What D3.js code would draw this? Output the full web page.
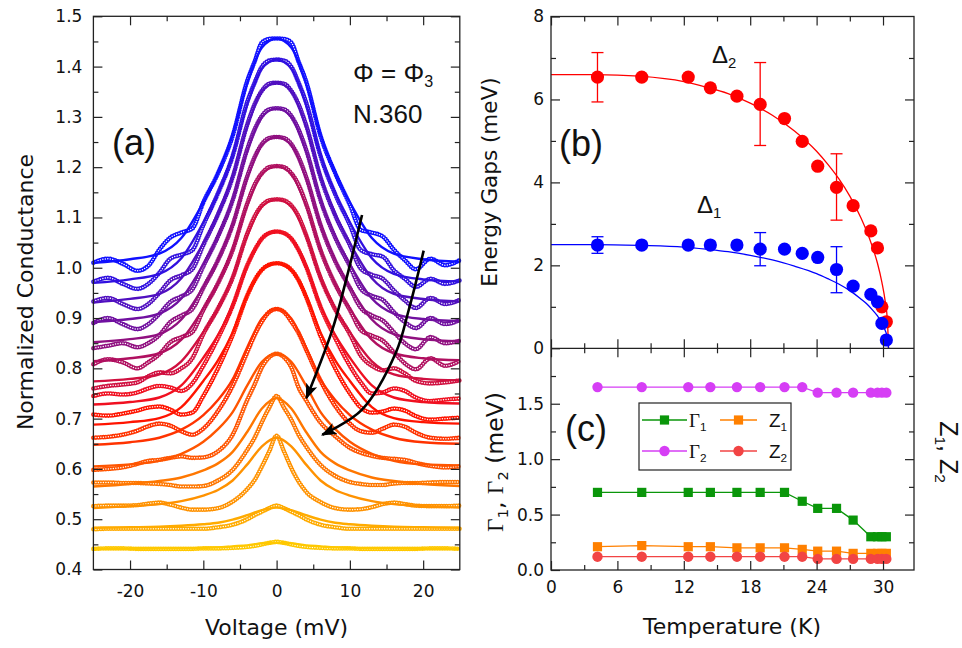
<!DOCTYPE html>
<html lang="en">
<head>
<meta charset="UTF-8" />
<title>Conductance spectra, energy gaps and fit parameters</title>
<script src="https://d3js.org/d3.v7.min.js"></script>
<style>
  body { margin: 0; background: #fff; }
  svg { display: block; font-family: "DejaVu Sans", sans-serif; }
  .tick-label { font-size: 17px; fill: #111; font-family: "DejaVu Sans", sans-serif; }
  .axis-title { font-size: 22px; fill: #111; }
  .panel-tag { font-size: 36px; fill: #111; font-family: "Liberation Sans", Arial, sans-serif; }
  .note { font-family: "Liberation Sans", Arial, sans-serif; fill: #111; }
</style>
</head>
<body>
<svg width="962" height="648"></svg>
<script>
// ---------- panel (a): normalized conductance curves ----------
const voltageFit = [-25, -20, -16, -13, -10, -8, -6, -4, -2, 0, 2, 4, 6, 8, 10, 13, 16, 20, 25];
const voltageData = [-25, -23, -21, -19, -17.5, -16, -14.5, -13, -11.5, -10, -8, -6, -4, -3, -2, -1, 0,
                     1, 2, 3, 4, 6, 8, 10, 11.5, 13, 14.5, 16, 17.5, 19, 21, 23, 25];
const curveColors = ["#1010ff", "#3010e0", "#5010c0", "#7010a0", "#901080", "#b01060", "#d01040", "#f01020",
                     "#ff1400", "#ff3300", "#ff5500", "#ff7700", "#ff9200", "#ffab00", "#ffc800"];

// fitted curves (solid lines), top curve first
const fitLines = [
  [1.010,1.017,1.028,1.059,1.130,1.188,1.264,1.367,1.438,1.456,1.438,1.367,1.264,1.188,1.130,1.059,1.028,1.017,1.012],
  [0.970,0.977,0.988,1.019,1.090,1.148,1.223,1.325,1.396,1.414,1.396,1.325,1.223,1.148,1.090,1.019,0.988,0.977,0.973],
  [0.931,0.938,0.948,0.979,1.049,1.106,1.180,1.281,1.351,1.368,1.351,1.281,1.180,1.106,1.049,0.979,0.948,0.938,0.933],
  [0.892,0.898,0.909,0.939,1.007,1.062,1.134,1.232,1.300,1.317,1.300,1.232,1.134,1.062,1.007,0.939,0.909,0.898,0.894],
  [0.852,0.858,0.868,0.897,0.962,1.015,1.085,1.178,1.244,1.260,1.244,1.178,1.085,1.015,0.962,0.897,0.868,0.858,0.854],
  [0.814,0.820,0.830,0.857,0.919,0.969,1.035,1.124,1.186,1.202,1.186,1.124,1.035,0.969,0.919,0.857,0.830,0.820,0.816],
  [0.774,0.779,0.788,0.814,0.872,0.919,0.980,1.064,1.122,1.136,1.122,1.064,0.980,0.919,0.872,0.814,0.788,0.779,0.776],
  [0.728,0.733,0.742,0.766,0.821,0.866,0.924,1.003,1.058,1.072,1.058,1.003,0.924,0.866,0.821,0.766,0.742,0.733,0.730],
  [0.688,0.693,0.701,0.723,0.775,0.816,0.871,0.945,0.996,1.009,0.996,0.945,0.871,0.816,0.775,0.723,0.701,0.693,0.690],
  [0.648,0.653,0.662,0.678,0.707,0.737,0.778,0.842,0.899,0.918,0.899,0.842,0.778,0.737,0.707,0.678,0.662,0.653,0.650],
  [0.605,0.609,0.616,0.630,0.654,0.679,0.713,0.766,0.813,0.829,0.813,0.766,0.713,0.679,0.654,0.630,0.616,0.609,0.607],
  [0.565,0.570,0.576,0.583,0.597,0.611,0.634,0.674,0.720,0.741,0.720,0.674,0.634,0.611,0.597,0.583,0.576,0.570,0.566],
  [0.522,0.526,0.530,0.536,0.547,0.558,0.577,0.609,0.645,0.662,0.645,0.609,0.577,0.558,0.547,0.536,0.530,0.526,0.523],
  [0.483,0.484,0.485,0.487,0.490,0.493,0.499,0.508,0.518,0.523,0.518,0.508,0.499,0.493,0.490,0.487,0.485,0.484,0.483],
  [0.441,0.441,0.442,0.442,0.443,0.444,0.446,0.448,0.452,0.453,0.452,0.448,0.446,0.444,0.443,0.442,0.442,0.441,0.441]
];

// measured spectra (open circles), top curve first
const measured = [
  [1.010,1.018,1.008,0.994,1.004,1.036,1.060,1.070,1.078,1.130,1.188,1.262,1.372,1.410,1.448,1.455,1.456,1.455,1.448,1.410,1.372,1.262,1.188,1.125,1.075,1.070,1.062,1.036,1.015,0.997,1.018,1.005,1.015],
  [0.972,0.980,0.968,0.958,0.968,0.990,1.018,1.026,1.035,1.085,1.148,1.222,1.330,1.368,1.400,1.412,1.414,1.412,1.400,1.368,1.330,1.222,1.146,1.085,1.035,1.027,1.022,0.995,0.978,0.962,0.978,0.968,0.975],
  [0.933,0.940,0.928,0.918,0.928,0.950,0.975,0.985,0.997,1.045,1.106,1.180,1.285,1.325,1.352,1.366,1.368,1.366,1.352,1.325,1.285,1.180,1.104,1.045,0.998,0.986,0.978,0.955,0.935,0.920,0.940,0.928,0.936],
  [0.890,0.900,0.888,0.878,0.888,0.908,0.932,0.943,0.957,1.003,1.062,1.134,1.236,1.275,1.302,1.315,1.317,1.315,1.302,1.275,1.236,1.134,1.060,1.003,0.958,0.944,0.936,0.912,0.892,0.880,0.900,0.888,0.896],
  [0.840,0.845,0.850,0.842,0.850,0.866,0.892,0.905,0.918,0.960,1.015,1.085,1.182,1.220,1.246,1.258,1.260,1.258,1.246,1.220,1.182,1.085,1.013,0.960,0.920,0.905,0.895,0.872,0.850,0.838,0.862,0.850,0.855],
  [0.808,0.818,0.812,0.800,0.812,0.828,0.852,0.862,0.872,0.916,0.969,1.035,1.128,1.165,1.188,1.200,1.202,1.200,1.188,1.165,1.128,1.035,0.967,0.916,0.876,0.865,0.855,0.832,0.810,0.798,0.820,0.805,0.815],
  [0.760,0.765,0.768,0.772,0.784,0.792,0.790,0.800,0.820,0.868,0.919,0.980,1.068,1.102,1.124,1.134,1.136,1.134,1.124,1.102,1.066,0.980,0.917,0.868,0.825,0.805,0.796,0.800,0.790,0.775,0.770,0.772,0.776],
  [0.745,0.750,0.748,0.752,0.760,0.765,0.762,0.755,0.770,0.805,0.860,0.924,1.005,1.035,1.058,1.069,1.072,1.069,1.058,1.035,1.003,0.922,0.860,0.805,0.772,0.750,0.752,0.760,0.755,0.742,0.735,0.738,0.740],
  [0.708,0.706,0.710,0.716,0.722,0.724,0.718,0.708,0.712,0.745,0.800,0.866,0.945,0.975,0.996,1.006,1.009,1.006,0.996,0.975,0.943,0.864,0.800,0.750,0.722,0.712,0.714,0.720,0.716,0.705,0.698,0.700,0.702],
  [0.662,0.664,0.668,0.676,0.685,0.690,0.686,0.675,0.668,0.680,0.715,0.765,0.832,0.866,0.893,0.912,0.918,0.912,0.893,0.870,0.838,0.775,0.725,0.690,0.675,0.672,0.680,0.688,0.684,0.672,0.662,0.660,0.662],
  [0.598,0.600,0.603,0.610,0.616,0.618,0.622,0.625,0.622,0.623,0.635,0.668,0.737,0.768,0.802,0.822,0.829,0.822,0.802,0.762,0.737,0.692,0.665,0.642,0.632,0.626,0.622,0.620,0.618,0.612,0.606,0.603,0.605],
  [0.573,0.573,0.572,0.572,0.571,0.570,0.568,0.565,0.565,0.566,0.577,0.598,0.638,0.662,0.693,0.722,0.745,0.722,0.698,0.668,0.645,0.608,0.586,0.574,0.570,0.568,0.568,0.571,0.572,0.572,0.573,0.574,0.574],
  [0.526,0.527,0.527,0.528,0.531,0.533,0.529,0.523,0.519,0.519,0.522,0.535,0.560,0.578,0.605,0.635,0.666,0.635,0.602,0.575,0.555,0.534,0.522,0.519,0.520,0.524,0.530,0.533,0.530,0.527,0.526,0.526,0.527],
  [0.480,0.481,0.481,0.481,0.481,0.481,0.481,0.481,0.481,0.481,0.484,0.489,0.500,0.508,0.515,0.522,0.527,0.522,0.515,0.508,0.500,0.489,0.484,0.481,0.481,0.481,0.481,0.481,0.481,0.481,0.481,0.481,0.481],
  [0.441,0.442,0.442,0.441,0.441,0.441,0.441,0.441,0.441,0.442,0.442,0.443,0.445,0.447,0.450,0.453,0.455,0.453,0.450,0.447,0.445,0.443,0.442,0.442,0.441,0.441,0.441,0.441,0.441,0.441,0.442,0.442,0.441]
];

// guide arrows in (a), in data units [mV, G]
const arrowLeft = [[11.66, 1.105], [9.49, 0.976], [7.59, 0.876], [4.07, 0.741]];
const arrowRight = [[20.07, 1.034], [18.03, 0.916], [16.27, 0.831], [11.66, 0.718], [6.24, 0.668]];

// ---------- panels (b) and (c): temperature dependence ----------
const temps = [4.2, 8.2, 12.4, 14.4, 16.8, 18.9, 21.1, 22.7, 24.1, 25.8, 27.3, 28.9, 29.5, 29.9, 30.3];
const delta2 = [6.54, 6.54, 6.54, 6.28, 6.08, 5.88, 5.54, 4.99, 4.39, 3.88, 3.44, 2.83, 2.42, 1.00, 0.64];
const delta1 = [2.49, 2.49, 2.49, 2.49, 2.49, 2.39, 2.39, 2.29, 2.19, 1.90, 1.50, 1.30, 1.12, 0.60, 0.20];

const errTemps = [4.2, 18.9, 25.8];
const delta2Low = [5.94, 4.89, 3.09];
const delta2High = [7.13, 6.89, 4.69];
const delta1Low = [2.29, 1.99, 1.34];
const delta1High = [2.69, 2.79, 2.45];

const fitTemps = [0, 4, 8, 12, 14, 16, 18, 20, 22, 24, 25, 26, 27, 28, 28.5, 29, 29.5, 29.9, 30.2, 30.4, 30.5];
const fitDelta2 = [6.60, 6.60, 6.56, 6.43, 6.30, 6.14, 5.91, 5.62, 5.24, 4.75, 4.44, 4.09, 3.67, 3.15, 2.84, 2.48, 2.05, 1.59, 1.13, 0.66, 0];
const fitDelta1 = [2.50, 2.50, 2.48, 2.44, 2.39, 2.33, 2.24, 2.13, 1.98, 1.80, 1.68, 1.55, 1.39, 1.19, 1.08, 0.94, 0.78, 0.60, 0.43, 0.25, 0];

const gamma1 = [0.70, 0.70, 0.70, 0.70, 0.70, 0.70, 0.70, 0.62, 0.556, 0.556, 0.45, 0.30, 0.30, 0.30, 0.30];
const gamma2 = [1.65, 1.65, 1.65, 1.65, 1.65, 1.65, 1.65, 1.65, 1.60, 1.60, 1.60, 1.60, 1.60, 1.60, 1.60];
const z1 = [0.21, 0.22, 0.21, 0.21, 0.20, 0.20, 0.20, 0.186, 0.17, 0.17, 0.15, 0.15, 0.15, 0.15, 0.15];
const z2 = [0.12, 0.12, 0.12, 0.12, 0.12, 0.12, 0.12, 0.12, 0.10, 0.10, 0.10, 0.10, 0.10, 0.10, 0.10];

const svg = d3.select("svg");
const ink = "#222";

// inward ticks with d3 axes; no domain path, the frame is drawn separately
function ticks(g, gen, pos, values, len, fmt, pad) {
  const a = gen.tickValues(values).tickSizeInner(-len).tickSizeOuter(0)
    .tickPadding(pad || 6).tickFormat(fmt || (() => ""));
  const sel = g.append("g").attr("transform", pos).call(a)
    .attr("font-size", null).attr("font-family", null);
  sel.select(".domain").remove();
  sel.selectAll("line").attr("stroke", ink).attr("stroke-width", 1.2);
  sel.selectAll("text").attr("class", "tick-label").attr("fill", null);
  return sel;
}

function subText(g, x, y, parts, cls, size, rot) {
  const t = g.append("text").attr("class", cls)
    .attr("transform", `translate(${x},${y})` + (rot ? ` rotate(${rot})` : ""))
    .style("font-size", size + "px");
  if (rot) t.attr("text-anchor", "middle");
  parts.forEach(p => {
    const s = t.append("tspan").text(p.t);
    if (p.font) s.style("font-family", p.font);
    if (p.sub) s.attr("dy", "0.32em").style("font-size", (size * 0.62) + "px");
    if (p.up) s.attr("dy", "-0.2em");
  });
  return t;
}

// ---------- draw (a) ----------
const xA = d3.scaleLinear().domain([-25, 25]).range([93.4, 459.8]);
const yA = d3.scaleLinear().domain([0.4, 1.5]).range([569.5, 16.3]);
const gA = svg.append("g");

const fitPath = d3.line().x((d, i) => xA(voltageFit[i])).y(d => yA(d)).curve(d3.curveMonotoneX);
const dataPath = d3.line().x((d, i) => xA(voltageData[i])).y(d => yA(d)).curve(d3.curveMonotoneX);

const dots = gA.append("g");
measured.forEach((vals, k) => {
  dots.append("path").attr("d", dataPath(vals)).attr("fill", "none")
    .attr("stroke", curveColors[k]).attr("stroke-width", 4.6)
    .attr("stroke-linecap", "round").attr("stroke-dasharray", "0 2.5");
  dots.append("path").attr("d", dataPath(vals)).attr("fill", "none")
    .attr("stroke", "#fff").attr("stroke-width", 1.5)
    .attr("stroke-linecap", "round").attr("stroke-dasharray", "0 2.5");
});
fitLines.forEach((vals, k) => {
  gA.append("path").attr("d", fitPath(vals)).attr("fill", "none")
    .attr("stroke", curveColors[k]).attr("stroke-width", 2.4);
});

const defs = svg.append("defs");
defs.append("marker").attr("id", "head").attr("viewBox", "0 0 10 10")
  .attr("refX", 9).attr("refY", 5).attr("markerWidth", 6).attr("markerHeight", 6)
  .attr("orient", "auto")
  .append("path").attr("d", "M0,1.2L10,5L0,8.8L2.2,5z").attr("fill", "#000");

const arrowPath = d3.line().x(d => xA(d[0])).y(d => yA(d[1])).curve(d3.curveCatmullRom);
[arrowLeft, arrowRight].forEach(pts => {
  gA.append("path").attr("d", arrowPath(pts)).attr("fill", "none")
    .attr("stroke", "#000").attr("stroke-width", 2.6).attr("marker-end", "url(#head)");
});

gA.append("rect").attr("x", 93.4).attr("y", 16.3).attr("width", 459.8 - 93.4).attr("height", 569.5 - 16.3)
  .attr("fill", "none").attr("stroke", ink).attr("stroke-width", 1.3);

const gMajor = d3.range(0.4, 1.51, 0.1).map(v => +v.toFixed(2));
const gMinor = d3.range(0.45, 1.5, 0.1).map(v => +v.toFixed(2));
const vMajor = [-20, -10, 0, 10, 20], vMinor = [-15, -5, 5, 15];
ticks(gA, d3.axisBottom(xA), "translate(0,569.5)", vMajor, 9, d => d, 15);
ticks(gA, d3.axisBottom(xA), "translate(0,569.5)", vMinor, 5);
ticks(gA, d3.axisTop(xA), "translate(0,16.3)", vMajor, 9);
ticks(gA, d3.axisTop(xA), "translate(0,16.3)", vMinor, 5);
ticks(gA, d3.axisLeft(yA), "translate(93.4,0)", gMajor, 9, d3.format(".1f"), 11);
ticks(gA, d3.axisLeft(yA), "translate(93.4,0)", gMinor, 5);
ticks(gA, d3.axisRight(yA), "translate(459.8,0)", gMajor, 9);
ticks(gA, d3.axisRight(yA), "translate(459.8,0)", gMinor, 5);

gA.append("text").attr("class", "axis-title").attr("x", 276.6).attr("y", 635)
  .attr("text-anchor", "middle").text("Voltage (mV)");
gA.append("text").attr("class", "axis-title").style("font-size", "22px")
  .attr("transform", "translate(33,292) rotate(-90)").attr("text-anchor", "middle")
  .text("Normalized Conductance");
gA.append("text").attr("class", "panel-tag").attr("x", 112).attr("y", 155).text("(a)");
subText(gA, 353, 82, [{t: "Φ = Φ"}, {t: "3", sub: true}], "note", 26);
gA.append("text").attr("class", "note").style("font-size", "26px").attr("x", 353).attr("y", 123).text("N.360");

// ---------- draw (b) ----------
const xT = d3.scaleLinear().domain([0, 32.8]).range([551, 914]);
const yB = d3.scaleLinear().domain([0, 8]).range([348.3, 16.5]);
const yC = d3.scaleLinear().domain([0, 2]).range([570, 348.3]);
const gB = svg.append("g");

const fitLine = d3.line().x((d, i) => xT(fitTemps[i])).y(d => yB(d)).curve(d3.curveMonotoneX);
gB.append("path").attr("d", fitLine(fitDelta2)).attr("fill", "none").attr("stroke", "#ff0000").attr("stroke-width", 1.3);
gB.append("path").attr("d", fitLine(fitDelta1)).attr("fill", "none").attr("stroke", "#0000ff").attr("stroke-width", 1.3);

function errorBars(lo, hi, color) {
  errTemps.forEach((t, i) => {
    const x = xT(t);
    gB.append("line").attr("x1", x).attr("x2", x).attr("y1", yB(lo[i])).attr("y2", yB(hi[i]))
      .attr("stroke", color).attr("stroke-width", 1.3);
    [lo[i], hi[i]].forEach(v => gB.append("line").attr("x1", x - 6).attr("x2", x + 6)
      .attr("y1", yB(v)).attr("y2", yB(v)).attr("stroke", color).attr("stroke-width", 1.3));
  });
}
errorBars(delta2Low, delta2High, "#ff0000");
errorBars(delta1Low, delta1High, "#0000ff");

gB.selectAll("circle.d2").data(delta2).join("circle").attr("class", "d2")
  .attr("cx", (d, i) => xT(temps[i])).attr("cy", d => yB(d)).attr("r", 6.6).attr("fill", "#ff0000");
gB.selectAll("circle.d1").data(delta1).join("circle").attr("class", "d1")
  .attr("cx", (d, i) => xT(temps[i])).attr("cy", d => yB(d)).attr("r", 6.6).attr("fill", "#0000ff");

subText(gB, 712, 63, [{t: "Δ"}, {t: "2", sub: true}], "note", 24);
subText(gB, 697, 213, [{t: "Δ"}, {t: "1", sub: true}], "note", 24);
gB.append("text").attr("class", "panel-tag").attr("x", 559).attr("y", 156).text("(b)");

// ---------- draw (c) ----------
const gC = svg.append("g");
const cLine = d3.line().x((d, i) => xT(temps[i])).y(d => yC(d));
const series = [
  {vals: gamma2, color: "#d63ef5", shape: "circle"},
  {vals: gamma1, color: "#0a960a", shape: "square"},
  {vals: z1, color: "#ff8000", shape: "square"},
  {vals: z2, color: "#f24444", shape: "circle"}
];
function marker(g, shape, x, y, color) {
  if (shape === "square") {
    g.append("rect").attr("x", x - 4.6).attr("y", y - 4.6).attr("width", 9.2).attr("height", 9.2).attr("fill", color);
  } else {
    g.append("circle").attr("cx", x).attr("cy", y).attr("r", 5.2).attr("fill", color);
  }
}
series.forEach(s => {
  gC.append("path").attr("d", cLine(s.vals)).attr("fill", "none").attr("stroke", s.color).attr("stroke-width", 1.3);
  s.vals.forEach((v, i) => marker(gC, s.shape, xT(temps[i]), yC(v), s.color));
});

// legend
const lg = gC.append("g");
lg.append("rect").attr("x", 639).attr("y", 403).attr("width", 152).attr("height", 67)
  .attr("fill", "#fff").attr("stroke", ink).attr("stroke-width", 1.2);
[
  {x0: 642, x1: 687, y: 420, color: "#0a960a", shape: "square", sym: "Γ", n: "1", serif: true},
  {x0: 720, x1: 757, y: 420, color: "#ff8000", shape: "square", sym: "Z", n: "1"},
  {x0: 642, x1: 687, y: 451, color: "#d63ef5", shape: "circle", sym: "Γ", n: "2", serif: true},
  {x0: 720, x1: 757, y: 451, color: "#f24444", shape: "circle", sym: "Z", n: "2"}
].forEach(it => {
  lg.append("line").attr("x1", it.x0).attr("x2", it.x1).attr("y1", it.y).attr("y2", it.y)
    .attr("stroke", it.color).attr("stroke-width", 1.3);
  marker(lg, it.shape, (it.x0 + it.x1) / 2, it.y, it.color);
  subText(lg, it.x1 + 2 + (it.serif ? 0 : 10), it.y + 7,
    [{t: it.sym, font: it.serif ? "'Liberation Serif', serif" : null}, {t: it.n, sub: true}], "note", 19);
});

gC.append("text").attr("class", "panel-tag").attr("x", 565).attr("y", 441).text("(c)");

// frames and ticks for (b)/(c)
svg.append("rect").attr("x", 551).attr("y", 16.5).attr("width", 914 - 551).attr("height", 570 - 16.5)
  .attr("fill", "none").attr("stroke", ink).attr("stroke-width", 1.3);
svg.append("line").attr("x1", 551).attr("x2", 914).attr("y1", 348.3).attr("y2", 348.3)
  .attr("stroke", ink).attr("stroke-width", 1.3);

const tMajor = [0, 6, 12, 18, 24, 30], tMinor = [3, 9, 15, 21, 27];
ticks(svg, d3.axisTop(xT), "translate(0,16.5)", tMajor, 9);
ticks(svg, d3.axisTop(xT), "translate(0,16.5)", tMinor, 5);
ticks(svg, d3.axisBottom(xT), "translate(0,348.3)", tMajor, 9);
ticks(svg, d3.axisBottom(xT), "translate(0,348.3)", tMinor, 5);
ticks(svg, d3.axisTop(xT), "translate(0,348.3)", tMajor, 9);
ticks(svg, d3.axisTop(xT), "translate(0,348.3)", tMinor, 5);
ticks(svg, d3.axisBottom(xT), "translate(0,570)", tMajor, 9, d => d, 11);
ticks(svg, d3.axisBottom(xT), "translate(0,570)", tMinor, 5);

ticks(svg, d3.axisLeft(yB), "translate(551,0)", [0, 2, 4, 6, 8], 9, d => d, 7);
ticks(svg, d3.axisLeft(yB), "translate(551,0)", [1, 3, 5, 7], 5);
ticks(svg, d3.axisRight(yB), "translate(914,0)", [2, 4, 6], 9);
ticks(svg, d3.axisRight(yB), "translate(914,0)", [1, 3, 5, 7], 5);
ticks(svg, d3.axisLeft(yC), "translate(551,0)", [0, 0.5, 1, 1.5], 9, d3.format(".1f"), 7);
ticks(svg, d3.axisLeft(yC), "translate(551,0)", [0.25, 0.75, 1.25, 1.75], 5);
ticks(svg, d3.axisRight(yC), "translate(914,0)", [0.5, 1, 1.5], 9);
ticks(svg, d3.axisRight(yC), "translate(914,0)", [0.25, 0.75, 1.25, 1.75], 5);

svg.append("text").attr("class", "axis-title").attr("x", 732).attr("y", 634)
  .attr("text-anchor", "middle").text("Temperature (K)");
svg.append("text").attr("class", "axis-title").style("font-size", "21.5px")
  .attr("transform", "translate(497,182) rotate(-90)").attr("text-anchor", "middle")
  .text("Energy Gaps (meV)");
subText(svg, 503, 462, [
  {t: "Γ", font: "'Liberation Serif', serif"}, {t: "1", sub: true}, {t: ", ", up: true},
  {t: "Γ", font: "'Liberation Serif', serif"}, {t: "2", sub: true}, {t: " (meV)", up: true}
], "axis-title", 23.5, -90);
subText(svg, 940, 452, [
  {t: "Z"}, {t: "1", sub: true}, {t: ", ", up: true}, {t: "Z"}, {t: "2", sub: true}
], "note", 25, 90);
</script>
</body>
</html>
